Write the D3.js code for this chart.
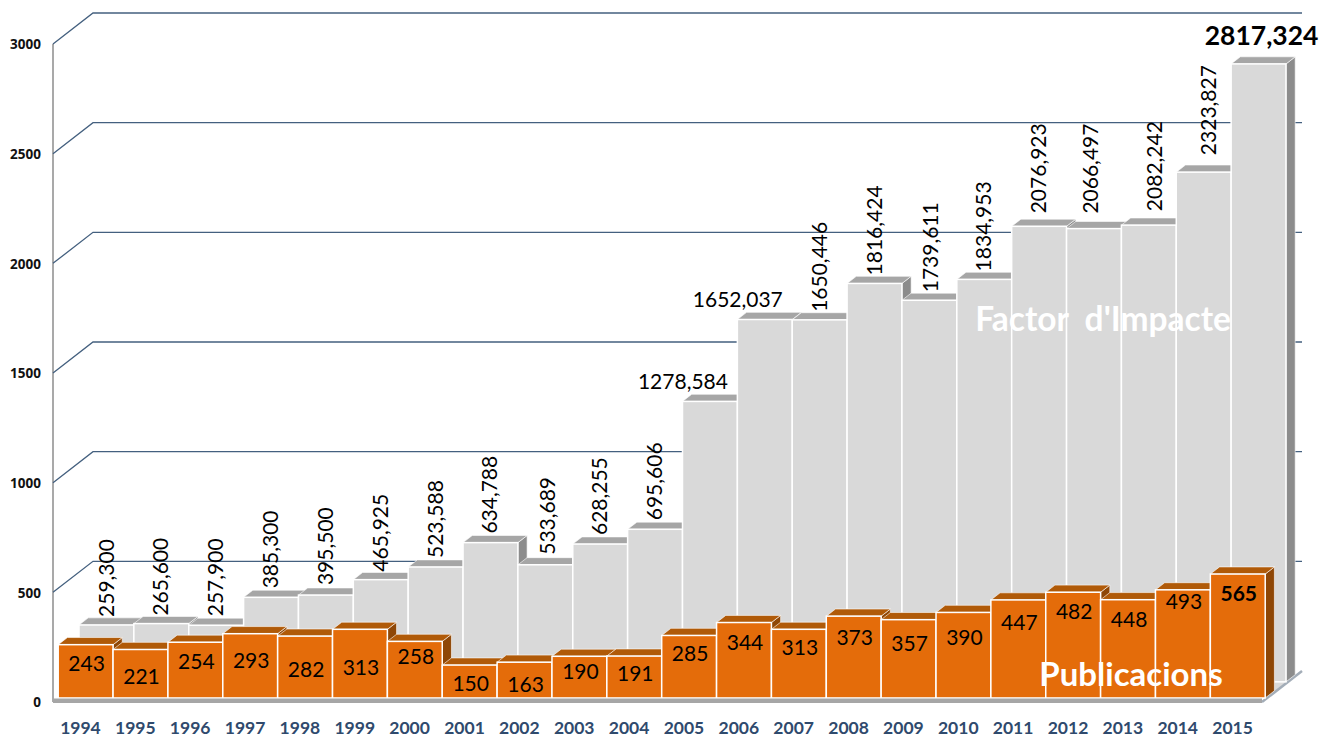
<!DOCTYPE html>
<html>
<head>
<meta charset="utf-8">
<script src="https://cdn.jsdelivr.net/npm/d3@7"></script>
<style>
    html, body { margin: 0; padding: 0; background: #fff; }
    text { font-family: Lato, "Open Sans", sans-serif; }
</style>
</head>
<body>
<svg id="chart" width="1321" height="738"></svg>
<script>
const years = ["1994", "1995", "1996", "1997", "1998", "1999", "2000", "2001", "2002", "2003", "2004",
    "2005", "2006", "2007", "2008", "2009", "2010", "2011", "2012", "2013", "2014", "2015"];
const impactValues = [259.3, 265.6, 257.9, 385.3, 395.5, 465.925, 523.588, 634.788, 533.689, 628.255, 695.606,
    1278.584, 1652.037, 1650.446, 1816.424, 1739.611, 1834.953, 2076.923, 2066.497, 2082.242, 2323.827, 2817.324];
const pubValues = [243, 221, 254, 293, 282, 313, 258, 150, 163, 190, 191,
    285, 344, 313, 373, 357, 390, 447, 482, 448, 493, 565];
const yTicks = [0, 500, 1000, 1500, 2000, 2500, 3000];

// Label placement, moved by hand in the original chart
const impactLabelGap = [8, 8, 9, 9, 10, 8, 9, 9, 10, 9, 9, 19, 20, 8, 8, 8, 8, 13, 15, 14, 17, 26];
const impactLabelShift = [1, 0, 0, 0, 0, 0, 0, 0, 3, 0, 0, 0, 0, 0, 0, 2, 0, 0, -3, 6, 5, 0];
const impactLabelFlat = ["1278.584", "1652.037", "2817.324"];
const pubLabelDrop = [19, 28, 20, 27, 34, 39, 16, 19, 23, 16, 18, 19, 20, 19, 22, 24, 26, 23, 20, 20, 12, 20];

const svg = d3.select("#chart");

const x = d3.scaleBand().domain(years).range([53, 1260]);
const y = d3.scaleLinear().domain([0, 3000]).range([702, 44]);

// Depth goes from the front plane (0) to the back wall (1)
const depthX = 40, depthY = 31;
const floorRight = 1262;
const px = (xv, depth) => xv + depth * depthX;
const py = (yv, depth) => yv - depth * depthY;
const poly = pts => pts.map(p => p.join(",")).join(" ");

// Walls and floor
svg.append("polygon")
    .attr("points", poly([[px(53, 0), y(0)], [px(floorRight, 0), y(0)], [px(floorRight, 1), y(0) - depthY], [px(53, 1), y(0) - depthY]]))
    .attr("fill", "#fff");
svg.append("line")
    .attr("x1", 53).attr("x2", 53)
    .attr("y1", y(3000)).attr("y2", y(0))
    .attr("stroke", "#8c8c8c")
    .attr("stroke-width", 1.5);

// Grid lines, bent round the left wall
svg.selectAll(".grid")
    .data(yTicks.slice(1))
    .enter()
    .append("polyline")
    .attr("class", "grid")
    .attr("points", d => poly([[53, y(d)], [px(53, 1), py(y(d), 1)], [px(floorRight, 1), py(y(d), 1)]]))
    .attr("fill", "none")
    .attr("stroke", "#44607f")
    .attr("stroke-width", 1.3);

// Floor under the grey bars
svg.append("polygon")
    .attr("points", poly([[px(53, 0.13), y(0) - 4], [px(floorRight, 0.13), y(0) - 4], [px(floorRight, 0.9), py(y(0), 0.9)], [px(53, 0.9), py(y(0), 0.9)]]))
    .attr("fill", "#d9d9d9");
svg.append("line")
    .attr("x1", px(floorRight, 0)).attr("y1", y(0))
    .attr("x2", px(floorRight, 1)).attr("y2", y(0) - depthY)
    .attr("stroke", "#a3adb8")
    .attr("stroke-width", 2.5);

function drawBars(values, d0, d1, colors) {
    values.forEach((v, i) => {
        const left = x(years[i]);
        const right = left + x.bandwidth();
        const g = svg.append("g");
        g.append("polygon")
            .attr("points", poly([[px(right, d0), py(y(v), d0)], [px(right, d1), py(y(v), d1)], [px(right, d1), py(y(0), d1)], [px(right, d0), py(y(0), d0)]]))
            .attr("fill", colors.side)
            .attr("stroke", "#fff").attr("stroke-width", 0.6);
        g.append("polygon")
            .attr("points", poly([[px(left, d0), py(y(v), d0)], [px(right, d0), py(y(v), d0)], [px(right, d1), py(y(v), d1)], [px(left, d1), py(y(v), d1)]]))
            .attr("fill", colors.top)
            .attr("stroke", "#fff").attr("stroke-width", 0.6);
        g.append("rect")
            .attr("x", px(left, d0))
            .attr("y", py(y(v), d0))
            .attr("width", x.bandwidth())
            .attr("height", y(0) - y(v))
            .attr("fill", colors.front)
            .attr("stroke", "#fff")
            .attr("stroke-width", 1.5);
    });
}

drawBars(impactValues, 0.65, 0.88, { front: "#d9d9d9", top: "#a6a6a6", side: "#8c8c8c" });

// Impact labels
impactValues.forEach((v, i) => {
    const cx = px(x(years[i]) + x.bandwidth() / 2, 0.65);
    const top = py(y(v), 0.65);
    const label = v.toFixed(3).replace(".", ",");
    const flat = impactLabelFlat.includes(v.toFixed(3));
    const t = svg.append("text").text(label).attr("fill", "#000");
    if (flat) {
        const last = i === impactValues.length - 1;
        t.attr("x", last ? cx + 3 : cx - 27)
            .attr("y", top - impactLabelGap[i] + 7)
            .attr("text-anchor", "middle")
            .attr("font-size", last ? 26.5 : 21)
            .attr("font-weight", last ? 700 : 400);
    } else {
        t.attr("transform", "translate(" + (cx + 7 + impactLabelShift[i]) + "," + (top - impactLabelGap[i]) + ") rotate(-90)")
            .attr("font-size", 21);
    }
});

svg.append("text")
    .attr("x", 1103).attr("y", 331)
    .attr("text-anchor", "middle")
    .attr("font-size", 33.5).attr("font-weight", 700)
    .attr("fill", "#fff")
    .style("white-space", "pre")
    .text("Factor  d'Impacte");

drawBars(pubValues, 0.13, 0.36, { front: "#e46c0a", top: "#b05a08", side: "#8f4706" });

// Publication labels
svg.selectAll(".pub-label")
    .data(pubValues)
    .enter()
    .append("text")
    .attr("class", "pub-label")
    .attr("x", (d, i) => px(x(years[i]) + x.bandwidth() / 2, 0.13) + 1)
    .attr("y", (d, i) => py(y(d), 0.13) + pubLabelDrop[i] + 7)
    .attr("text-anchor", "middle")
    .attr("font-size", 21)
    .attr("font-weight", (d, i) => i === pubValues.length - 1 ? 700 : 400)
    .attr("fill", "#000")
    .text(d => d);

svg.append("text")
    .attr("x", 1131).attr("y", 686)
    .attr("text-anchor", "middle")
    .attr("font-size", 33).attr("font-weight", 700)
    .attr("fill", "#fff")
    .text("Publicacions");

// Front floor edge
svg.append("rect")
    .attr("x", 53).attr("y", 698.5)
    .attr("width", floorRight - 53).attr("height", 4.5)
    .attr("fill", "#a6a6a6");

// Axes
const yAxis = svg.append("g")
    .attr("transform", "translate(44,0.5)")
    .call(d3.axisLeft(y).tickValues(yTicks).tickSize(0).tickFormat(d3.format("d")));
yAxis.select(".domain").remove();
yAxis.selectAll("text")
    .attr("font-size", 13.5).attr("font-weight", 700).attr("fill", "#111")
    .style("font-family", "'Open Sans', sans-serif");

const xAxis = svg.append("g")
    .attr("transform", "translate(0,719)")
    .call(d3.axisBottom(x).tickSize(0));
xAxis.select(".domain").remove();
xAxis.selectAll("text")
    .attr("font-size", 17.5).attr("font-weight", 700).attr("fill", "#2f4a6d")
    .style("font-family", "Lato, sans-serif");
</script>
</body>
</html>
